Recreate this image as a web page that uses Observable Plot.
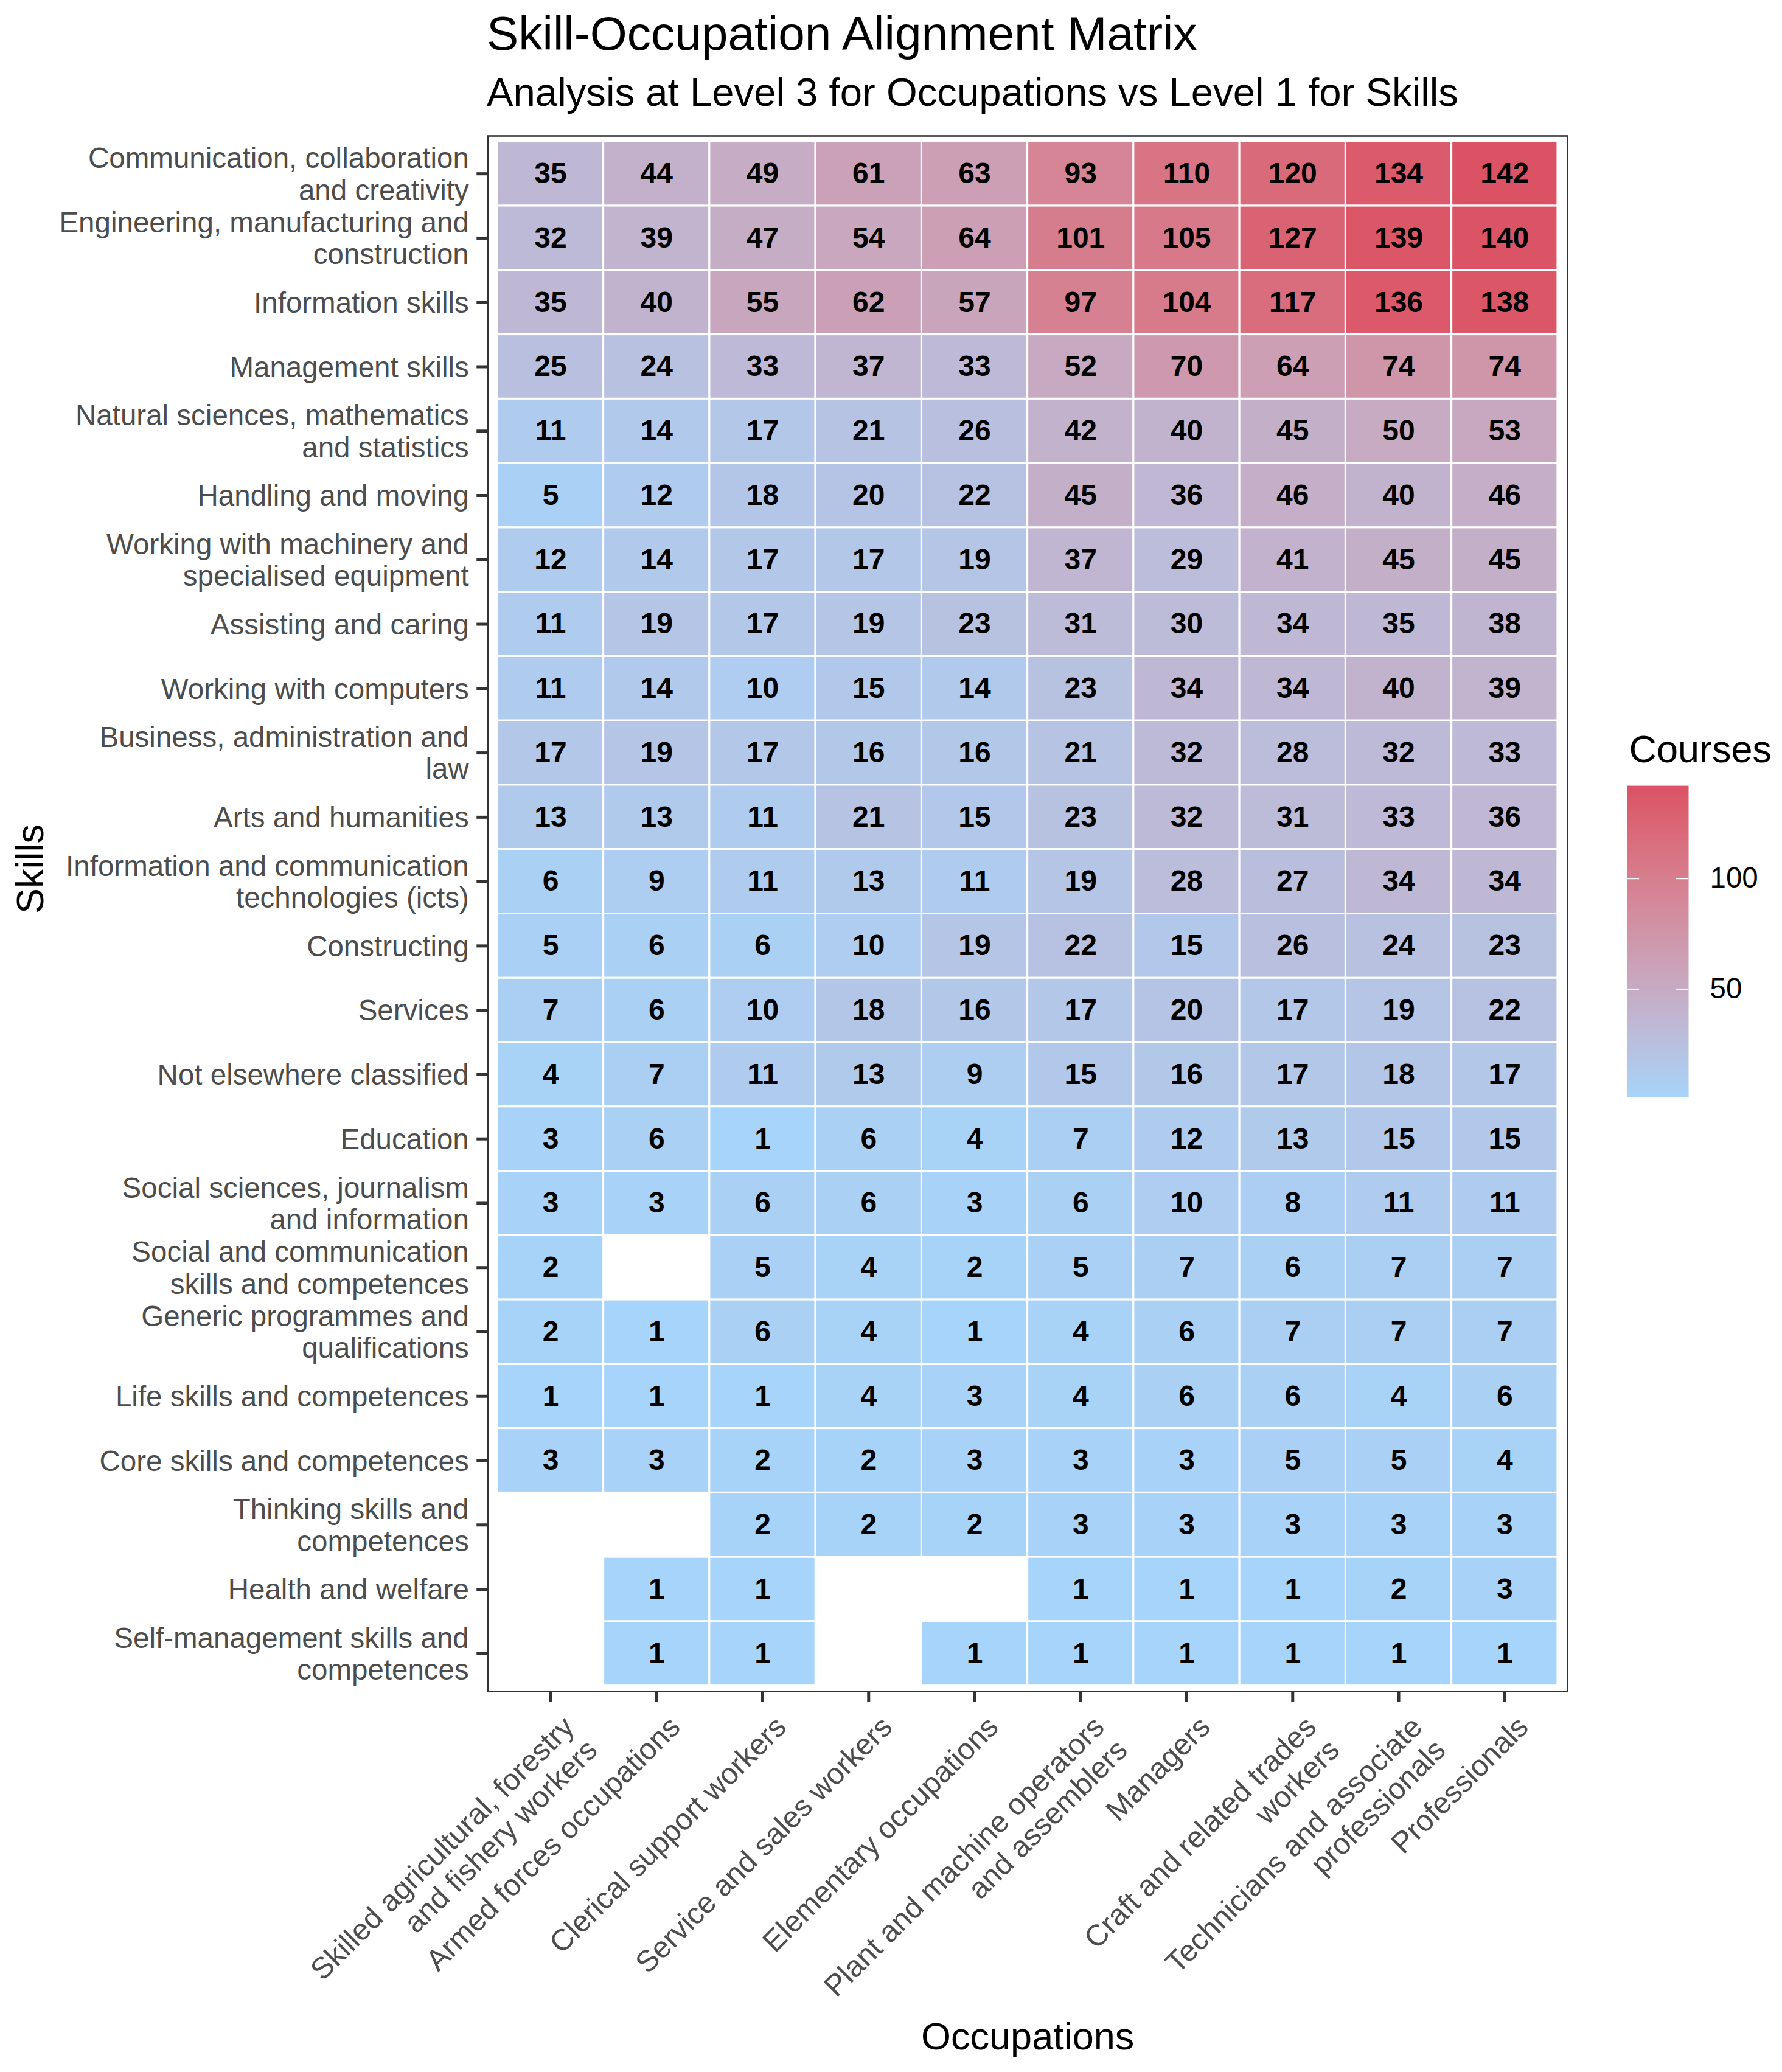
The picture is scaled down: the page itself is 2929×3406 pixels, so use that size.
<!DOCTYPE html>
<html>
<head>
<meta charset="utf-8">
<script src="https://cdn.jsdelivr.net/npm/d3@7"></script>
<script src="https://cdn.jsdelivr.net/npm/@observablehq/plot@0.6"></script>
<style>
  html, body { margin: 0; padding: 0; background: #ffffff; }
  #chart { position: relative; width: 2929px; height: 3406px; font-family: 'Liberation Sans', Arial, Helvetica, sans-serif; overflow: hidden; }
  #chart .title { position: absolute; left: 800px; top: 16px; margin: 0; font-size: 78.4px; line-height: 1; font-weight: normal; color: #000; white-space: nowrap; z-index: 2; }
  #chart .subtitle { position: absolute; left: 800px; top: 118.7px; margin: 0; font-size: 65.3px; line-height: 1; font-weight: normal; color: #000; white-space: nowrap; z-index: 2; }
  #main { position: absolute; left: 0; top: 0; z-index: 1; }
  #legend { position: absolute; left: 2600px; top: 1150px; z-index: 1; }
</style>
</head>
<body>
<div id="chart">
  <h1 class="title">Skill-Occupation Alignment Matrix</h1>
  <h2 class="subtitle">Analysis at Level 3 for Occupations vs Level 1 for Skills</h2>
  <div id="main"></div>
  <div id="legend"></div>
</div>
<script>
// ---------- data ----------
const occupations = [
  "Skilled agricultural, forestry and fishery workers",
  "Armed forces occupations",
  "Clerical support workers",
  "Service and sales workers",
  "Elementary occupations",
  "Plant and machine operators and assemblers",
  "Managers",
  "Craft and related trades workers",
  "Technicians and associate professionals",
  "Professionals"
];
const occupationTickLabels = [
  "Skilled agricultural, forestry\nand fishery workers",
  "Armed forces occupations",
  "Clerical support workers",
  "Service and sales workers",
  "Elementary occupations",
  "Plant and machine operators\nand assemblers",
  "Managers",
  "Craft and related trades\nworkers",
  "Technicians and associate\nprofessionals",
  "Professionals"
];
const skills = [
  "Communication, collaboration and creativity",
  "Engineering, manufacturing and construction",
  "Information skills",
  "Management skills",
  "Natural sciences, mathematics and statistics",
  "Handling and moving",
  "Working with machinery and specialised equipment",
  "Assisting and caring",
  "Working with computers",
  "Business, administration and law",
  "Arts and humanities",
  "Information and communication technologies (icts)",
  "Constructing",
  "Services",
  "Not elsewhere classified",
  "Education",
  "Social sciences, journalism and information",
  "Social and communication skills and competences",
  "Generic programmes and qualifications",
  "Life skills and competences",
  "Core skills and competences",
  "Thinking skills and competences",
  "Health and welfare",
  "Self-management skills and competences"
];
const skillTickLabels = [
  "Communication, collaboration\nand creativity",
  "Engineering, manufacturing and\nconstruction",
  "Information skills",
  "Management skills",
  "Natural sciences, mathematics\nand statistics",
  "Handling and moving",
  "Working with machinery and\nspecialised equipment",
  "Assisting and caring",
  "Working with computers",
  "Business, administration and\nlaw",
  "Arts and humanities",
  "Information and communication\ntechnologies (icts)",
  "Constructing",
  "Services",
  "Not elsewhere classified",
  "Education",
  "Social sciences, journalism\nand information",
  "Social and communication\nskills and competences",
  "Generic programmes and\nqualifications",
  "Life skills and competences",
  "Core skills and competences",
  "Thinking skills and\ncompetences",
  "Health and welfare",
  "Self-management skills and\ncompetences"
];
// courses[skill][occupation], null = no tile
const courses = [
  [35, 44, 49, 61, 63, 93, 110, 120, 134, 142],
  [32, 39, 47, 54, 64, 101, 105, 127, 139, 140],
  [35, 40, 55, 62, 57, 97, 104, 117, 136, 138],
  [25, 24, 33, 37, 33, 52, 70, 64, 74, 74],
  [11, 14, 17, 21, 26, 42, 40, 45, 50, 53],
  [5, 12, 18, 20, 22, 45, 36, 46, 40, 46],
  [12, 14, 17, 17, 19, 37, 29, 41, 45, 45],
  [11, 19, 17, 19, 23, 31, 30, 34, 35, 38],
  [11, 14, 10, 15, 14, 23, 34, 34, 40, 39],
  [17, 19, 17, 16, 16, 21, 32, 28, 32, 33],
  [13, 13, 11, 21, 15, 23, 32, 31, 33, 36],
  [6, 9, 11, 13, 11, 19, 28, 27, 34, 34],
  [5, 6, 6, 10, 19, 22, 15, 26, 24, 23],
  [7, 6, 10, 18, 16, 17, 20, 17, 19, 22],
  [4, 7, 11, 13, 9, 15, 16, 17, 18, 17],
  [3, 6, 1, 6, 4, 7, 12, 13, 15, 15],
  [3, 3, 6, 6, 3, 6, 10, 8, 11, 11],
  [2, null, 5, 4, 2, 5, 7, 6, 7, 7],
  [2, 1, 6, 4, 1, 4, 6, 7, 7, 7],
  [1, 1, 1, 4, 3, 4, 6, 6, 4, 6],
  [3, 3, 2, 2, 3, 3, 3, 5, 5, 4],
  [null, null, 2, 2, 2, 3, 3, 3, 3, 3],
  [null, 1, 1, null, null, 1, 1, 1, 2, 3],
  [null, 1, 1, null, 1, 1, 1, 1, 1, 1]
];
const legendTicks = [50, 100];
const colorLow = "#A6D4FA";
const colorHigh = "#DB5264";

// ---------- table ----------
const table = [];
skills.forEach((s, i) => occupations.forEach((o, j) => {
  const v = courses[i][j];
  if (v != null) table.push({skill: s, occupation: o, courses: v});
}));
const cMin = d3.min(table, d => d.courses);
const cMax = d3.max(table, d => d.courses);
const colorScale = {type: "linear", domain: [cMin, cMax], range: [colorLow, colorHigh], interpolate: d3.interpolateLab};

const font = "'Liberation Sans', Arial, Helvetica, sans-serif";
const W = 2929, H = 3406;
const panel = {left: 800, right: 2577.3, top: 221.7, bottom: 2781.3};
const occLabel = new Map(occupations.map((d, i) => [d, occupationTickLabels[i]]));
const skillLabel = new Map(skills.map((d, i) => [d, skillTickLabels[i]]));

const main = Plot.plot({
  width: W,
  height: H,
  marginLeft: panel.left,
  marginRight: W - panel.right,
  marginTop: panel.top,
  marginBottom: H - panel.bottom,
  style: {background: "transparent", fontFamily: font, maxWidth: "none", overflow: "visible"},
  x: {type: "band", domain: occupations, padding: 0, round: false, insetLeft: 17.4, insetRight: 17.4},
  y: {type: "band", domain: skills, padding: 0, round: false, insetTop: 10.6, insetBottom: 10.6},
  color: colorScale,
  marks: [
    Plot.cell(table, {x: "occupation", y: "skill", fill: "courses", stroke: "white", strokeWidth: 3, inset: 0}),
    Plot.text(table, {x: "occupation", y: "skill", text: d => String(d.courses), fontSize: 48, fontWeight: "bold", fill: "black"}),
    Plot.frame({stroke: "#333333", strokeWidth: 2.6, inset: 1.3}),
    Plot.axisY({tickSize: 16.7, tickPadding: 13, stroke: "#333333", strokeWidth: 5, fill: "#4D4D4D",
      fontSize: 47.5, lineHeight: 1.1, tickFormat: d => skillLabel.get(d), label: null}),
    Plot.axisX({tickSize: 16, stroke: "#333333", strokeWidth: 5, fill: null, label: null}),
    Plot.axisX({tickSize: 0, tickPadding: 33, dx: 14.4, tickRotate: -45, textAnchor: "end", lineAnchor: "top",
      fill: "#4D4D4D", fontSize: 49, lineHeight: 1.1, tickFormat: d => occLabel.get(d), label: null}),
    Plot.text(["Skills"], {text: d => d, frameAnchor: "left", dx: -750, rotate: -90, fontSize: 63, fill: "black"}),
    Plot.text(["Occupations"], {text: d => d, frameAnchor: "bottom", dy: 586.7, lineAnchor: "bottom", fontSize: 63, fill: "black"})
  ]
});
document.getElementById("main").appendChild(main);

// ---------- legend (colourbar) ----------
const LW = 329, LH = 700;
const legend = Plot.plot({
  width: LW,
  height: LH,
  marginLeft: 74,
  marginRight: LW - 175,
  marginTop: 141.1,
  marginBottom: LH - 653.5,
  style: {background: "transparent", fontFamily: font, maxWidth: "none", overflow: "visible"},
  x: {domain: [0, 1], axis: null},
  y: {domain: [cMin, cMax]},
  color: colorScale,
  marks: [
    Plot.raster({x1: 0, x2: 1, y1: cMin, y2: cMax, width: 1, height: 600, fill: (x, y) => y, imageRendering: "auto"}),
    Plot.ruleY(legendTicks, {x1: 0, x2: 0.2, stroke: "white", strokeWidth: 2}),
    Plot.ruleY(legendTicks, {x1: 0.8, x2: 1, stroke: "white", strokeWidth: 2}),
    Plot.axisY(legendTicks, {anchor: "right", tickSize: 0, tickPadding: 35, fontSize: 47.5, fill: "black", label: null}),
    Plot.text(["Courses"], {text: d => d, frameAnchor: "top-left", dx: 3, dy: -39, lineAnchor: "bottom", textAnchor: "start", fontSize: 63, fill: "black"})
  ]
});
document.getElementById("legend").appendChild(legend);
</script>
</body>
</html>
